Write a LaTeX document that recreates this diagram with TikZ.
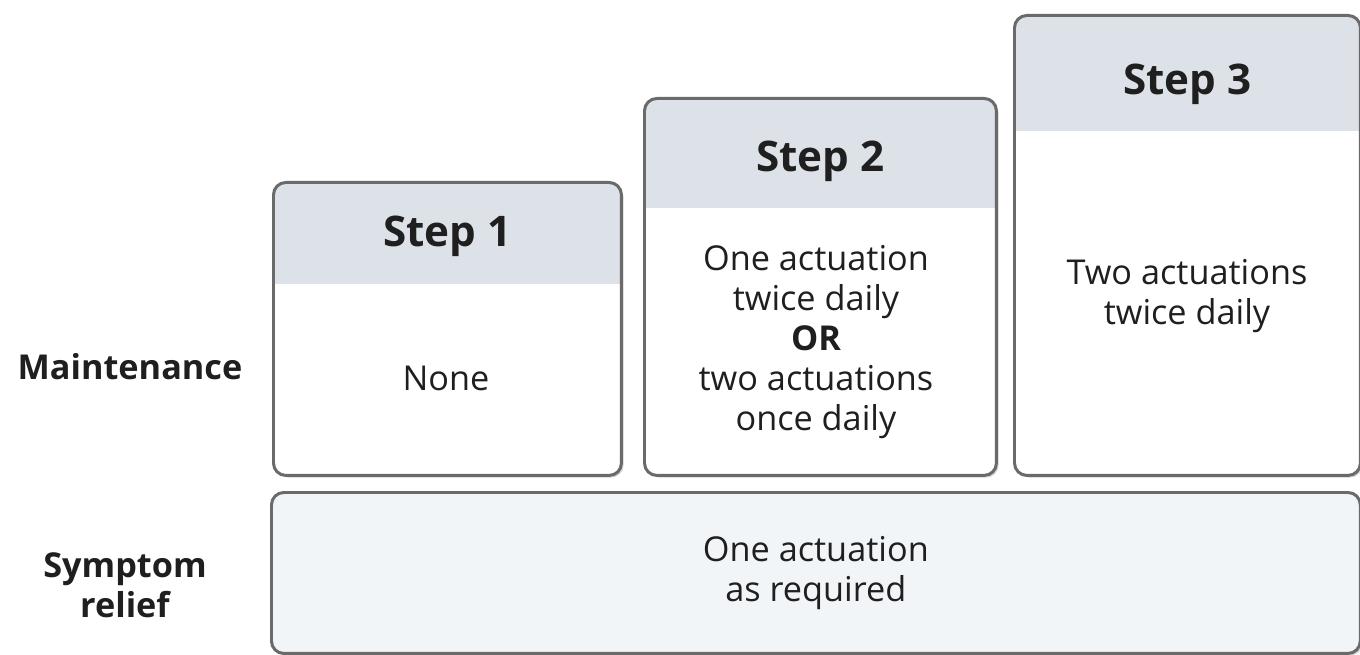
\documentclass[tikz,border=0pt]{standalone}
\usepackage{fontspec}
\setmainfont{Open Sans}
\usetikzlibrary{positioning,shadows}
\definecolor{headfill}{HTML}{DDE1E8}
\definecolor{relieffill}{HTML}{F2F5F8}
\definecolor{boxline}{HTML}{6A6A6A}
\definecolor{textcol}{HTML}{1F1F1F}

\begin{document}
\begin{tikzpicture}[
        x=0.02cm, y=-0.02cm,
        every node/.style={text=textcol},
        stepbox/.style={draw=boxline, line width=1.7pt, fill=white, rounded corners=7pt,
            anchor=north west, inner sep=0pt,
            drop shadow={shadow xshift=1.2pt, shadow yshift=-1.2pt, opacity=0.35},
            path picture={\fill[headfill, sharp corners] (path picture bounding box.north west)
                rectangle ([yshift=-#1]path picture bounding box.north east);}},
        reliefbox/.style={draw=boxline, line width=1.7pt, fill=relieffill, rounded corners=7pt,
            anchor=north west, inner sep=0pt,
            drop shadow={shadow xshift=1.2pt, shadow yshift=-1.2pt, opacity=0.35}},
        steptitle/.style={font=\fontsize{24}{28}\selectfont\bfseries},
        dosetext/.style={align=center, font=\fontsize{19.5}{22.7}\selectfont},
        rowlabel/.style={align=center, font=\fontsize{19.5}{22.7}\selectfont\bfseries},
    ]
    \useasboundingbox (0,0) rectangle (1360,655);

    %Boxes: the three steps and symptom relief
    \node[stepbox=2.04cm, minimum width=6.96cm, minimum height=5.86cm] (step1) at (272,181) {};
    \node[stepbox=2.2cm,  minimum width=7.04cm, minimum height=7.54cm] (step2) at (643,97)  {};
    \node[stepbox=2.32cm, minimum width=6.92cm, minimum height=9.2cm]  (step3) at (1013,14) {};
    \node[reliefbox,      minimum width=21.78cm, minimum height=3.22cm] (relief) at (270,491) {};

    %Titles
    \node[steptitle] (title1) at ([yshift=-1.1cm]step1.north) {Step 1};
    \node[steptitle] (title2) at ([yshift=-1.28cm]step2.north) {Step 2};
    \node[steptitle] (title3) at ([yshift=-1.4cm]step3.north)  {Step 3};

    %Doses
    \node[dosetext] (dose1) at (446,378) {None};
    \node[dosetext] (dose2) at (816,342) {One actuation\\twice daily\\\textbf{OR}\\two actuations\\once daily};
    \node[dosetext] (dose3) at (1187,296) {Two actuations\\twice daily};
    \node[dosetext] (dose4) at (relief.center) {One actuation\\as required};

    %Row labels
    \node[rowlabel] (maint) at (130,367) {Maintenance};
    \node[rowlabel] (sympt) at (125,585) {Symptom\\relief};
\end{tikzpicture}
\end{document}
